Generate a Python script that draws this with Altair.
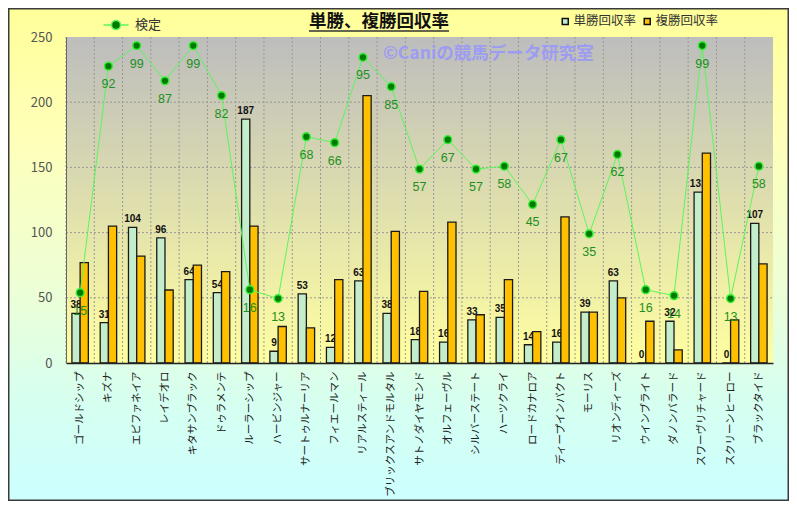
import altair as alt
import pandas as pd

# ---------------- data ----------------
names = ["ゴールドシップ", "キズナ", "エピファネイア", "レイデオロ", "キタサンブラック",
         "ドゥラメンテ", "ルーラーシップ", "ハービンジャー", "サートゥルナーリア", "フィエールマン",
         "リアルスティール", "ブリックスアンドモルタル", "サトノダイヤモンド", "オルフェーヴル",
         "シルバーステート", "ハーツクライ", "ロードカナロア", "ディープインパクト", "モーリス",
         "リオンディーズ", "ウインブライト", "ダノンバラード", "スワーヴリチャード",
         "スクリーンヒーロー", "ブラックタイド"]
tansho = [38, 31, 104, 96, 64, 54, 187, 9, 53, 12, 63, 38, 18, 16, 33, 35, 14, 16, 39, 63, 0, 32, 131, 0, 107]
fukusho = [77, 105, 82, 56, 75, 70, 105, 28, 27, 64, 205, 101, 55, 108, 37, 64, 24, 112, 39, 50, 32, 10, 161, 33, 76]
kentei = [15, 92, 99, 87, 99, 82, 16, 13, 68, 66, 95, 85, 57, 67, 57, 58, 45, 67, 35, 62, 16, 14, 99, 13, 58]
series_names = ["単勝回収率", "複勝回収率"]
line_name = "検定"
y_ticks = [0, 50, 100, 150, 200, 250]
title_text = "単勝、複勝回収率"
watermark_text = "©Caniの競馬データ研究室"

df_long = pd.DataFrame({
    "name": names * 2,
    "series": [series_names[0]] * len(names) + [series_names[1]] * len(names),
    "value": tansho + fukusho,
})
df_line = pd.DataFrame({"name": names, "kentei": kentei, "s": [line_name] * len(names)})
one = pd.DataFrame({"a": [0]})

# ---------------- layout ----------------
W, H = 707, 326
PL, PT, PR, PB = 58, 29, 16, 138
TW, TH = W + PL + PR, H + PT + PB
JP = "Noto Sans CJK JP"


def hex2rgb(h):
    h = h.lstrip("#")
    return [int(h[i:i + 2], 16) for i in (0, 2, 4)]


def lerp(c1, c2, f):
    a, b = hex2rgb(c1), hex2rgb(c2)
    return "#" + "".join("%02x" % round(a[i] + (b[i] - a[i]) * f) for i in range(3))


outer_stops = [(0.0, "#ffff99"), (0.25, "#ffffb8"), (0.55, "#eeffd4"), (0.8, "#d6fff0"), (1.0, "#ccffff")]


def col_at(t):
    for (t0, c0), (t1, c1) in zip(outer_stops[:-1], outer_stops[1:]):
        if t0 <= t <= t1:
            return lerp(c0, c1, (t - t0) / (t1 - t0) if t1 > t0 else 0)
    return outer_stops[-1][1]


def strip_gradient(ya, yb):
    a, b = ya / TH, yb / TH
    st = [(0.0, col_at(a))]
    for t, c in outer_stops:
        if a < t < b:
            st.append(((t - a) / (b - a), c))
    st.append((1.0, col_at(b)))
    return alt.LinearGradient(gradient="linear", x1=0, x2=0, y1=0, y2=1,
                              stops=[alt.GradientStop(offset=o, color=c) for o, c in st])


def strip(x0, x1, y0, y1):
    return alt.Chart(one).mark_rect(color=strip_gradient(y0, y1)).encode(
        x=alt.value(x0 - PL), x2=alt.value(x1 - PL), y=alt.value(y0 - PT), y2=alt.value(y1 - PT))


strips = [
    strip(0, TW, 0, PT + 1),
    strip(0, TW, PT + H - 1, TH),
    strip(0, PL + 1, PT, PT + H),
    strip(PL + W - 1, TW, PT, PT + H),
]

plot_bg = alt.Chart(one).mark_rect(color=alt.LinearGradient(
    gradient="linear", x1=0, x2=0, y1=0, y2=1,
    stops=[alt.GradientStop(offset=0, color="#bdbdbd"),
           alt.GradientStop(offset=1, color="#ffffa0")])).encode(
    x=alt.value(0), x2=alt.value(W), y=alt.value(0), y2=alt.value(H))

xaxis = alt.Axis(title=None, labelAngle=270, labelFontSize=10.5, labelFont=JP, labelColor="#222",
                 labelPadding=8, ticks=False, domainColor="#222", domainWidth=1.5, grid=False,
                 zindex=1, labelLimit=200)
yaxis = alt.Axis(title=None, values=y_ticks, labelFontSize=13, labelFont=JP, labelColor="#555",
                 ticks=False, labelPadding=14, domainColor="#666", grid=False, zindex=1)
xscale = alt.Scale(paddingInner=0, paddingOuter=0)
yscale = alt.Scale(domain=[0, 250], nice=False, zero=False)
lscale = alt.Scale(domain=[-8.9, 101.9], nice=False, zero=False)
offscale = alt.Scale(domain=series_names, paddingOuter=0.72, paddingInner=0)


def X(**kw):
    return alt.X("name:N", sort=names, scale=xscale, axis=xaxis, **kw)


vgrid = alt.Chart(pd.DataFrame({"name": names})).mark_rule(
    color="#999999", strokeDash=[2, 2], strokeWidth=1).encode(
    x=X(bandPosition=0), y=alt.value(0), y2=alt.value(H))

hgrid = alt.Chart(pd.DataFrame({"v": y_ticks[1:-1]})).mark_rule(
    color="#999999", strokeDash=[2, 2], strokeWidth=1).encode(
    y=alt.Y("v:Q", scale=yscale, axis=None), x=alt.value(0), x2=alt.value(W))

watermark = alt.Chart(one).mark_text(
    text=watermark_text, align="left", baseline="middle", fontSize=17.5, fontWeight="bold",
    font=JP, color="#9c9cf2").encode(x=alt.value(317), y=alt.value(17))

bar_labels = alt.Chart(df_long).transform_filter(
    alt.datum.series == series_names[0]).mark_text(
    dy=-5, baseline="alphabetic", fontSize=10, fontWeight="bold", font="Liberation Sans",
    color="#111111").encode(
    x=X(), xOffset=alt.XOffset("series:N", scale=offscale),
    y=alt.Y("value:Q", scale=yscale, axis=None), text="value:Q")

bars = alt.Chart(df_long).mark_bar(stroke="#1a1a1a", strokeWidth=1.3).encode(
    x=X(), xOffset=alt.XOffset("series:N", scale=offscale),
    y=alt.Y("value:Q", scale=yscale, axis=yaxis),
    color=alt.Color("series:N", scale=alt.Scale(domain=series_names, range=["#c4eecb", "#ffc000"]),
                    legend=alt.Legend(title=None, orient="none", direction="horizontal",
                                      legendX=493, legendY=-22, symbolType="square", symbolSize=36,
                                      symbolStrokeColor="#111111", symbolStrokeWidth=1.5,
                                      labelFontSize=12.5, labelFont=JP, labelColor="#333333",
                                      labelOffset=2, columnPadding=4, padding=0)))

legend_path = ("M-2,0L-0.72,0M0.72,0L2,0M0.72,0A0.72,0.72,0,1,1,-0.72,0"
               "A0.72,0.72,0,1,1,0.72,0Z")
line = alt.Chart(df_line).mark_line(strokeWidth=1).encode(
    x=X(), y=alt.Y("kentei:Q", scale=lscale, axis=None),
    stroke=alt.Stroke("s:N", scale=alt.Scale(domain=[line_name], range=["#5cf55c"]),
                      legend=alt.Legend(title=None, orient="none", legendX=43, legendY=-19,
                                        symbolType=legend_path, symbolSize=156,
                                        symbolFillColor="#007a00", symbolStrokeWidth=1.5,
                                        labelFontSize=13, labelFont=JP, labelColor="#333333",
                                        labelOffset=12, padding=0)))

points = alt.Chart(df_line).mark_circle(
    fill="#007a00", stroke="#33ee33", strokeWidth=1.5, size=60, opacity=1).encode(
    x=X(), y=alt.Y("kentei:Q", scale=lscale, axis=None))

line_labels = alt.Chart(df_line).mark_text(
    dy=18, baseline="middle", fontSize=12.5, font="Liberation Sans", color="#1f8f1f").encode(
    x=X(), y=alt.Y("kentei:Q", scale=lscale, axis=None), text="kentei:Q")

title = alt.Chart(one).mark_text(
    text=title_text, align="center", baseline="middle", fontSize=17.5, fontWeight="bold",
    font=JP, color="#111111").encode(x=alt.value(313), y=alt.value(-15))
underline = alt.Chart(one).mark_rule(color="#333333", strokeWidth=1.5).encode(
    x=alt.value(243), x2=alt.value(383), y=alt.value(-6))

frame = alt.Chart(one).mark_rect(filled=False, stroke="#3a3a3a", strokeWidth=1.5).encode(
    x=alt.value(-PL + 0.75), x2=alt.value(W + PR - 0.75),
    y=alt.value(-PT + 0.75), y2=alt.value(H + PB - 0.75))

chart = alt.layer(
    *strips, plot_bg, vgrid, hgrid, watermark, bar_labels, bars, line, points, line_labels,
    title, underline, frame
).resolve_scale(y="independent").properties(
    width=W, height=H,
    padding={"left": PL, "top": PT, "right": PR, "bottom": PB},
    autosize=alt.AutoSizeParams(type="none"),
).configure_view(stroke="#888888", strokeWidth=1).configure(background="#ffffcc")

chart.save("out.html", embed_options={"renderer": "svg", "actions": False})
